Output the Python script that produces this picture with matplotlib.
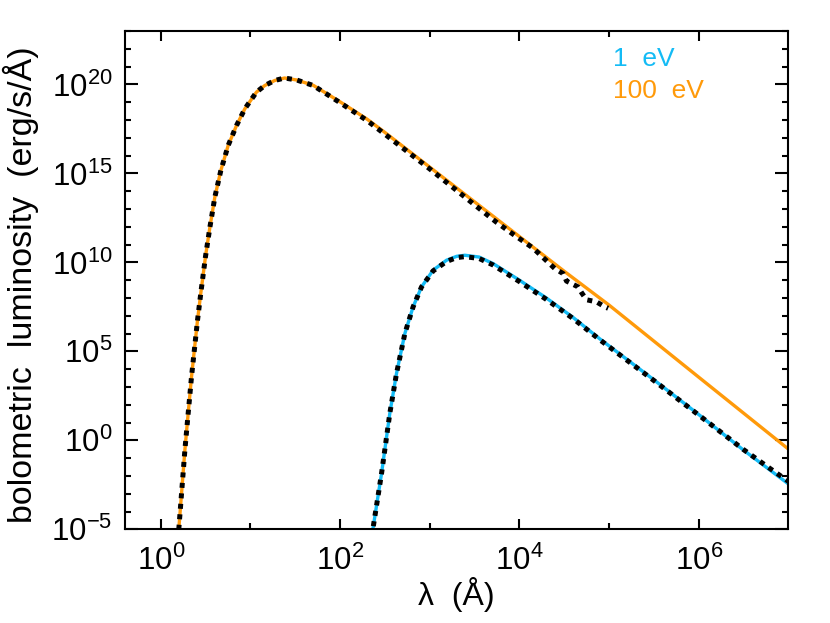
import matplotlib
matplotlib.use('Agg')
import matplotlib.pyplot as plt
from matplotlib.ticker import FixedLocator, FuncFormatter, NullFormatter
import numpy as np

plt.rcParams['font.family'] = ['Liberation Sans', 'DejaVu Sans']
plt.rcParams['mathtext.fontset'] = 'custom'
plt.rcParams['mathtext.rm'] = 'Liberation Sans'
plt.rcParams['mathtext.it'] = 'Liberation Sans:italic'
plt.rcParams['mathtext.bf'] = 'Liberation Sans:bold'

# values, as log10(wavelength / A) and log10(L / erg/s/A)
# 100 eV blackbody
logwl_100 = [0.18, 0.20, 0.268, 0.30, 0.342, 0.409, 0.45, 0.50, 0.547, 0.602,
             0.669, 0.751, 0.844, 0.937, 1.067, 1.16, 1.27, 1.38, 1.514, 1.70,
             2.00, 2.30, 2.50, 3.00, 3.50, 4.00, 4.50, 5.00, 6.00, 7.00]
loglum_100 = [-6.2, -5.0, -0.55, 1.25, 3.57, 6.75, 8.45, 10.4, 11.97, 13.66,
              15.16, 16.57, 17.69, 18.63, 19.57, 19.94, 20.22, 20.36, 20.25, 19.95,
              19.02, 18.05, 17.3, 15.35, 13.4, 11.45, 9.5, 7.6, 3.55, -0.49]

# 1 eV blackbody
logwl_1 = [2.35, 2.365, 2.462, 2.554, 2.629, 2.722, 2.814, 2.908, 3.037, 3.187,
           3.30, 3.391, 3.55, 3.707, 4.00, 4.30, 4.60, 4.897, 5.50, 6.00,
           6.50, 7.00]
loglum_1 = [-6.0, -5.0, -1.86, 1.51, 3.76, 6.00, 7.50, 8.62, 9.56, 10.12,
            10.34, 10.40, 10.30, 9.93, 9.0, 8.0, 6.9, 5.7, 3.4, 1.45,
            -0.55, -2.45]

# dotted (computed) spectra
logwl_dot100 = [0.18, 0.20, 0.268, 0.30, 0.342, 0.409, 0.45, 0.50, 0.547, 0.602,
                0.669, 0.751, 0.844, 0.937, 1.067, 1.16, 1.27, 1.38, 1.514, 1.70,
                2.00, 2.30, 2.50, 3.00, 3.558, 3.745, 3.93, 4.153, 4.395, 4.488,
                4.525, 4.655, 4.693, 4.748, 4.86, 4.953, 4.99]
loglum_dot100 = [-6.2, -5.0, -0.55, 1.25, 3.57, 6.75, 8.45, 10.4, 11.97, 13.66,
                 15.16, 16.57, 17.69, 18.63, 19.57, 19.94, 20.22, 20.36, 20.25, 19.94,
                 18.97, 17.97, 17.2, 15.25, 13.0, 12.25, 11.58, 10.8, 9.65, 9.37,
                 8.95, 8.62, 8.3, 7.9, 7.78, 7.5, 7.42]

logwl_dot1 = [2.35, 2.365, 2.462, 2.554, 2.629, 2.722, 2.814, 2.908, 3.037, 3.187,
              3.30, 3.391, 3.55, 3.707, 4.00, 4.30, 4.60, 4.897, 5.50, 6.00,
              6.50, 6.80, 7.00]
loglum_dot1 = [-6.0, -5.0, -1.86, 1.51, 3.76, 6.00, 7.50, 8.62, 9.52, 10.05,
               10.27, 10.32, 10.22, 9.85, 8.92, 7.92, 6.84, 5.65, 3.36, 1.42,
               -0.52, -1.6, -2.3]

labels = ['1  eV', '100  eV']
cyan = '#14bbf5'
orange = '#ff9a0a'

x_major = [1e0, 1e2, 1e4, 1e6]
x_minor = [1e1, 1e3, 1e5]
y_major = [1e-5, 1e0, 1e5, 1e10, 1e15, 1e20]
y_minor = [10.0 ** k for k in range(-5, 24)]

fig = plt.figure(figsize=(8.3, 6.23), dpi=100)
ax = fig.add_axes([0.1506, 0.1504, 0.7992, 0.7998])

ax.plot(10 ** np.array(logwl_1), 10 ** np.array(loglum_1), color=cyan, lw=2.4, zorder=2)
ax.plot(10 ** np.array(logwl_100), 10 ** np.array(loglum_100), color=orange, lw=2.4, zorder=2)

dot = (0, (1.0, 1.1))
ax.plot(10 ** np.array(logwl_dot1), 10 ** np.array(loglum_dot1), color='black', lw=3.6,
        linestyle=dot, dash_capstyle='butt', zorder=3)
ax.plot(10 ** np.array(logwl_dot100), 10 ** np.array(loglum_dot100), color='black', lw=3.6,
        linestyle=dot, dash_capstyle='butt', zorder=3)

ax.set_xscale('log')
ax.set_yscale('log')
ax.set_xlim(10 ** -0.4, 1e7)
ax.set_ylim(1e-5, 1e23)

sci = FuncFormatter(lambda v, p: r'$10^{%d}$' % round(np.log10(v)))
ax.xaxis.set_major_locator(FixedLocator(x_major))
ax.xaxis.set_minor_locator(FixedLocator(x_minor))
ax.yaxis.set_major_locator(FixedLocator(y_major))
ax.yaxis.set_minor_locator(FixedLocator(y_minor))
ax.xaxis.set_major_formatter(sci)
ax.yaxis.set_major_formatter(sci)
ax.xaxis.set_minor_formatter(NullFormatter())
ax.yaxis.set_minor_formatter(NullFormatter())

ax.tick_params(which='both', direction='in', top=True, right=True, width=1.5,
               labelsize=22.5, colors='black')
ax.tick_params(axis='x', which='major', length=7.5, pad=12)
ax.tick_params(axis='y', which='major', length=9.5, pad=9)
ax.tick_params(which='minor', length=4)
for s in ax.spines.values():
    s.set_linewidth(1.5)

ax.set_xlabel(r'λ  (Å)', fontsize=23)
ax.set_ylabel('bolometric  luminosity  (erg/s/Å)', fontsize=24.5)
ax.xaxis.set_label_coords(0.499, -0.095)
ax.yaxis.set_label_coords(-0.13, 0.49)

ax.text(0.735, 0.930, labels[0], transform=ax.transAxes, color=cyan, fontsize=19,
        va='baseline', ha='left')
ax.text(0.735, 0.865, labels[1], transform=ax.transAxes, color=orange, fontsize=19,
        va='baseline', ha='left')

fig.savefig('out.png', dpi=100)
